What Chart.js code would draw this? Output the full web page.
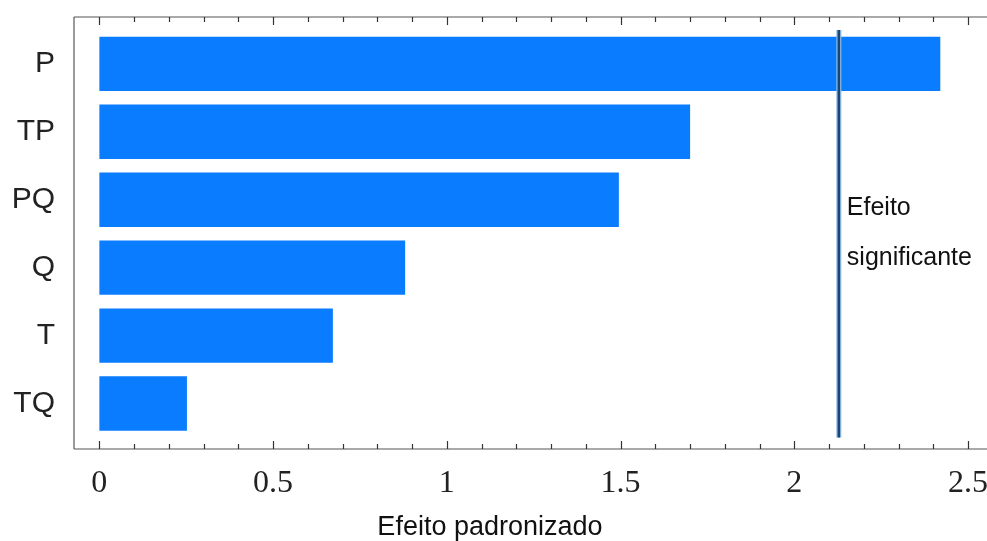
<!DOCTYPE html>
<html>
<head>
<meta charset="utf-8">
<script src="https://cdn.jsdelivr.net/npm/chart.js@4"></script>
<style>
  body { margin: 0; background: #fff; }
  #wrap { width: 987px; height: 541px; position: relative; }
</style>
</head>
<body>
<div id="wrap"><canvas id="grafico"></canvas></div>
<script>
// ===== DADOS =====
const efeitos = ['P', 'TP', 'PQ', 'Q', 'T', 'TQ'];
const valores = [2.42, 1.70, 1.495, 0.88, 0.672, 0.252];
const limiteSignificante = 2.128;
const xTicks = [0, 0.5, 1, 1.5, 2, 2.5];
const xTickLabels = ['0', '0.5', '1', '1.5', '2', '2.5'];
const tituloX = 'Efeito padronizado';
const textoLimite = ['Efeito', 'significante'];

// ===== MOLDURA, MARCAS E TEXTOS =====
const moldura = {
  id: 'moldura',
  afterDraw(chart) {
    const { ctx, chartArea: a, scales: { x, y } } = chart;
    ctx.save();

    // caixa (esquerda, topo, base)
    ctx.strokeStyle = '#9a9a9a';
    ctx.lineWidth = 2;
    ctx.beginPath();
    ctx.moveTo(a.left, a.top);
    ctx.lineTo(a.left, a.bottom);
    ctx.stroke();
    ctx.strokeStyle = '#555';
    ctx.lineWidth = 1.2;
    ctx.beginPath();
    ctx.moveTo(a.left, a.top); ctx.lineTo(chart.width, a.top);
    ctx.moveTo(a.left, a.bottom); ctx.lineTo(chart.width, a.bottom);
    ctx.stroke();

    // marcas para dentro, em cima e em baixo
    ctx.strokeStyle = '#333';
    ctx.lineWidth = 1.2;
    for (let i = 0; i <= 25; i++) {
      const v = i / 10;
      const px = Math.round(x.getPixelForValue(v)) + 0.5;
      const len = (i % 5 === 0) ? 8 : 5;
      ctx.beginPath();
      ctx.moveTo(px, a.bottom); ctx.lineTo(px, a.bottom - len);
      ctx.moveTo(px, a.top); ctx.lineTo(px, a.top + len);
      ctx.stroke();
    }

    // texto ao lado da linha de significancia
    ctx.fillStyle = '#111';
    ctx.font = '25px "Liberation Sans", Arial, sans-serif';
    ctx.textAlign = 'left';
    ctx.textBaseline = 'alphabetic';
    const tx = x.getPixelForValue(limiteSignificante) + 8;
    ctx.fillText(textoLimite[0], tx, y.getPixelForValue(2.23));
    ctx.fillText(textoLimite[1], tx, y.getPixelForValue(2.96));

    // titulo do eixo x
    ctx.font = '27px "Liberation Sans", Arial, sans-serif';
    ctx.textAlign = 'center';
    ctx.fillText(tituloX, x.getPixelForValue(1.124), 535);
    ctx.restore();
  }
};

// ===== GRAFICO =====
const ctx = document.getElementById('grafico').getContext('2d');

new Chart(ctx, {
  type: 'bar',
  data: {
    datasets: [
      {
        type: 'line',
        data: [{ x: limiteSignificante, y: -0.5 }, { x: limiteSignificante, y: 5.5 }],
        borderColor: '#1d4476',
        borderWidth: 2.5,
        pointRadius: 0,
        order: 1
      },
      {
        type: 'line',
        data: [{ x: limiteSignificante, y: -0.5 }, { x: limiteSignificante, y: 5.5 }],
        borderColor: '#8dbbe0',
        borderWidth: 5,
        pointRadius: 0,
        order: 2
      },
      {
        data: valores.map((v, i) => ({ x: v, y: i })),
        backgroundColor: '#0a7cff',
        borderWidth: 0,
        barPercentage: 0.8,
        categoryPercentage: 1,
        order: 3
      }
    ]
  },
  options: {
    indexAxis: 'y',
    responsive: true,
    maintainAspectRatio: false,
    animation: false,
    layout: { padding: { top: 17, right: 5, left: 0, bottom: 0 } },
    plugins: { legend: { display: false }, tooltip: { enabled: false } },
    scales: {
      x: {
        type: 'linear',
        min: -0.073,
        max: 2.54,
        grid: { display: false, drawTicks: false },
        border: { display: false },
        afterBuildTicks: s => { s.ticks = xTicks.map(v => ({ value: v })); },
        afterFit: s => { s.height = 92; s.paddingLeft = 0; s.paddingRight = 0; },
        ticks: {
          autoSkip: false,
          maxRotation: 0,
          padding: 15,
          color: '#222',
          font: { family: '"Liberation Serif", "Times New Roman", serif', size: 32 },
          callback: v => {
            const k = xTicks.findIndex(t => Math.abs(t - v) < 1e-6);
            return k >= 0 ? xTickLabels[k] : '';
          }
        }
      },
      y: {
        type: 'linear',
        reverse: true,
        offset: false,
        min: -0.69,
        max: 5.67,
        grid: { display: false, drawTicks: false },
        border: { display: false },
        afterBuildTicks: s => { s.ticks = efeitos.map((c, i) => ({ value: i })); },
        afterFit: s => { s.width = 74; s.paddingTop = 0; s.paddingBottom = 0; },
        ticks: {
          autoSkip: false,
          padding: 19,
          color: '#222',
          font: { family: '"Liberation Sans", Arial, sans-serif', size: 30 },
          callback: v => efeitos[v]
        }
      }
    }
  },
  plugins: [moldura]
});
</script>
</body>
</html>
